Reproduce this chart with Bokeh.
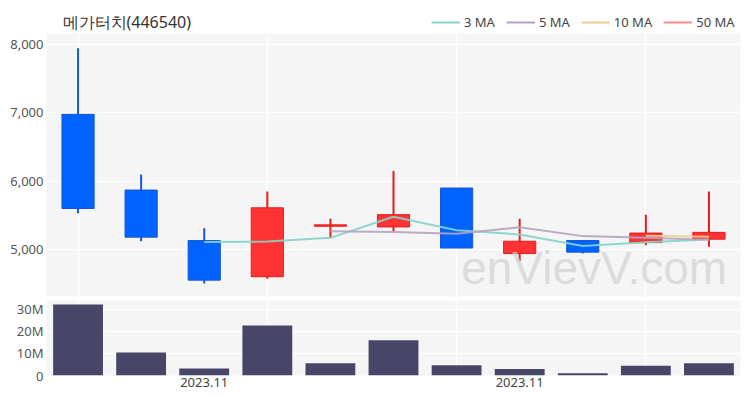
from bokeh.plotting import figure
from bokeh.layouts import column
from bokeh.models import (ColumnDataSource, Range1d, FixedTicker, Label, Legend, LegendItem,
                          NumeralTickFormatter)
from bokeh.embed import file_html
from bokeh.resources import INLINE

# ---- data ----
title_text = "메가터치(446540)"
idx = list(range(11))
opens  = [6980, 5870, 5130, 4600, 5340, 5330, 5900, 4940, 5130, 5100, 5150]
closes = [5600, 5180, 4550, 5610, 5360, 5510, 5020, 5120, 4960, 5240, 5250]
highs  = [7950, 6100, 5310, 5850, 5450, 6150, 5900, 5450, 5130, 5510, 5850]
lows   = [5530, 5120, 4500, 4570, 5170, 5260, 5020, 4830, 4940, 5060, 5040]
volumes = [32.2e6, 10.4e6, 3.2e6, 22.7e6, 5.6e6, 16.0e6, 4.7e6, 3.0e6, 1.05e6, 4.4e6, 5.5e6]
nan = float("nan")
ma3  = [nan, nan, 5110, 5115, 5170, 5480, 5280, 5220, 5050, 5105, 5145]
ma5  = [nan, nan, nan, nan, 5265, 5255, 5230, 5325, 5195, 5170, 5140]
ma10 = [nan] * 9 + [5200, 5185]
ma50 = [nan] * 11
ma_labels = ["3 MA", "5 MA", "10 MA", "50 MA"]
price_ticks = [5000, 6000, 7000, 8000]
vol_ticks = [0, 10e6, 20e6, 30e6]
vol_tick_labels = ["0", "10M", "20M", "30M"]
x_tick_pos = [2, 7]
x_tick_labels = ["2023.11", "2023.11"]
grid_pos = [0, 3, 6, 9]

UP_FILL, UP_LINE = "#ff3333", "#e81c1c"
DN_FILL, DN_LINE = "#0062ff", "#1656d8"
MA_COLORS = ["#86d3ca", "#b5a3c0", "#f0cd8e", "#ff8c8c"]
VOL_COLOR = "#474668"
BG = "#f5f5f5"
FONT = "Noto Sans"
W = 750
LB, RB = 46, 10

up = [c >= o for o, c in zip(opens, closes)]
src = ColumnDataSource(dict(
    x=idx, open=opens, close=closes, high=highs, low=lows,
    top=[max(o, c) for o, c in zip(opens, closes)],
    bottom=[min(o, c) for o, c in zip(opens, closes)],
    fill=[UP_FILL if u else DN_FILL for u in up],
    line=[UP_LINE if u else DN_LINE for u in up],
    vol=volumes, ma3=ma3, ma5=ma5, ma10=ma10, ma50=ma50,
))

# ---- header: title + legend (frame aligned with the panels below: 46..740) ----
h = figure(width=W, height=33, x_range=Range1d(LB, W - RB), y_range=Range1d(0, 33),
           x_axis_type=None, y_axis_type=None, output_backend="svg", toolbar_location=None,
           min_border_top=0, min_border_bottom=0, min_border_left=LB, min_border_right=RB)
h.outline_line_color = None
h.grid.visible = False
h.background_fill_color = "white"
h.border_fill_color = "white"
h.add_layout(Label(x=62, y=11.5, text=title_text, text_font="Noto Sans",
                   text_font_size="16px", text_color="#333333",
                   text_baseline="middle", text_align="left"))
hr = [h.line(x=[nan], y=[nan], line_color=c, line_width=2) for c in MA_COLORS]
legend = Legend(items=[LegendItem(label=l, renderers=[r]) for l, r in zip(ma_labels, hr)],
                orientation="horizontal", location=(385, 2),
                background_fill_alpha=0, border_line_color=None,
                label_text_font=FONT, label_text_font_size="13px", label_text_color="#444444",
                glyph_width=29, glyph_height=14, label_standoff=4, spacing=11,
                padding=0, margin=0, label_height=14)
h.add_layout(legend, "center")

xr = Range1d(-0.5, 10.5)

# ---- price panel ----
p = figure(width=W, height=264, x_range=xr, y_range=Range1d(4310, 8165),
           output_backend="svg", toolbar_location=None,
           min_border_top=0, min_border_bottom=1, min_border_left=LB, min_border_right=RB)
p.background_fill_color = BG
p.border_fill_color = "white"
p.outline_line_color = None
p.xaxis.visible = False
ya = p.yaxis[0]
ya.ticker = FixedTicker(ticks=price_ticks)
ya.formatter = NumeralTickFormatter(format="0,0")
ya.axis_line_color = None
ya.major_tick_line_color = None
ya.minor_tick_line_color = None
ya.major_tick_out = 0
ya.minor_tick_out = 0
ya.major_label_standoff = 3
ya.major_label_text_font = FONT
ya.major_label_text_font_size = "13px"
ya.major_label_text_color = "#555555"
p.xgrid.ticker = FixedTicker(ticks=grid_pos)
p.xgrid.grid_line_color = "white"
p.xgrid.grid_line_width = 1.5
p.ygrid.grid_line_color = "white"
p.ygrid.grid_line_width = 1.5

p.segment(x0="x", x1="x", y0="low", y1="high", source=src, line_color="line", line_width=2)
p.vbar(x="x", top="top", bottom="bottom", width=0.51, source=src,
       fill_color="fill", line_color="line", line_width=1)
for col, c in zip(["ma3", "ma5", "ma10", "ma50"], MA_COLORS):
    p.line(x="x", y=col, source=src, line_color=c, line_width=2, line_alpha=0.9)

p.add_layout(Label(x=8.18, y=4722, text="enVievV.com", text_font="Liberation Sans",
                   text_font_size="46px", text_color="#d0d0d0", text_alpha=0.7,
                   text_align="center", text_baseline="middle"))

# ---- volume panel ----
v = figure(width=W, height=100, x_range=xr, y_range=Range1d(0, 34e6),
           output_backend="svg", toolbar_location=None,
           min_border_top=3, min_border_bottom=22, min_border_left=LB, min_border_right=RB)
v.background_fill_color = BG
v.border_fill_color = "white"
v.outline_line_color = None
v.vbar(x="x", top="vol", bottom=0, width=0.79, source=src, fill_color=VOL_COLOR, line_color=None)
vy = v.yaxis[0]
vy.ticker = FixedTicker(ticks=vol_ticks)
vy.major_label_overrides = {t: l for t, l in zip(vol_ticks, vol_tick_labels)}
vy.axis_line_color = None
vy.major_tick_line_color = None
vy.minor_tick_line_color = None
vy.major_tick_out = 0
vy.minor_tick_out = 0
vy.major_label_standoff = 3
vy.major_label_text_font = FONT
vy.major_label_text_font_size = "13px"
vy.major_label_text_color = "#555555"
vx = v.xaxis[0]
vx.ticker = FixedTicker(ticks=x_tick_pos)
vx.major_label_overrides = {t: l for t, l in zip(x_tick_pos, x_tick_labels)}
vx.axis_line_color = None
vx.major_tick_line_color = None
vx.minor_tick_line_color = None
vx.major_tick_out = 0
vx.minor_tick_out = 0
vx.major_label_standoff = 2
vx.major_label_text_font = FONT
vx.major_label_text_font_size = "13px"
vx.major_label_text_color = "#444444"
v.xgrid.ticker = FixedTicker(ticks=grid_pos)
v.xgrid.grid_line_color = "white"
v.xgrid.grid_line_width = 1.5
v.ygrid.grid_line_color = "white"
v.ygrid.grid_line_width = 1.5

layout = column(h, p, v, spacing=0)
open("out.html", "w").write(file_html(layout, INLINE))
